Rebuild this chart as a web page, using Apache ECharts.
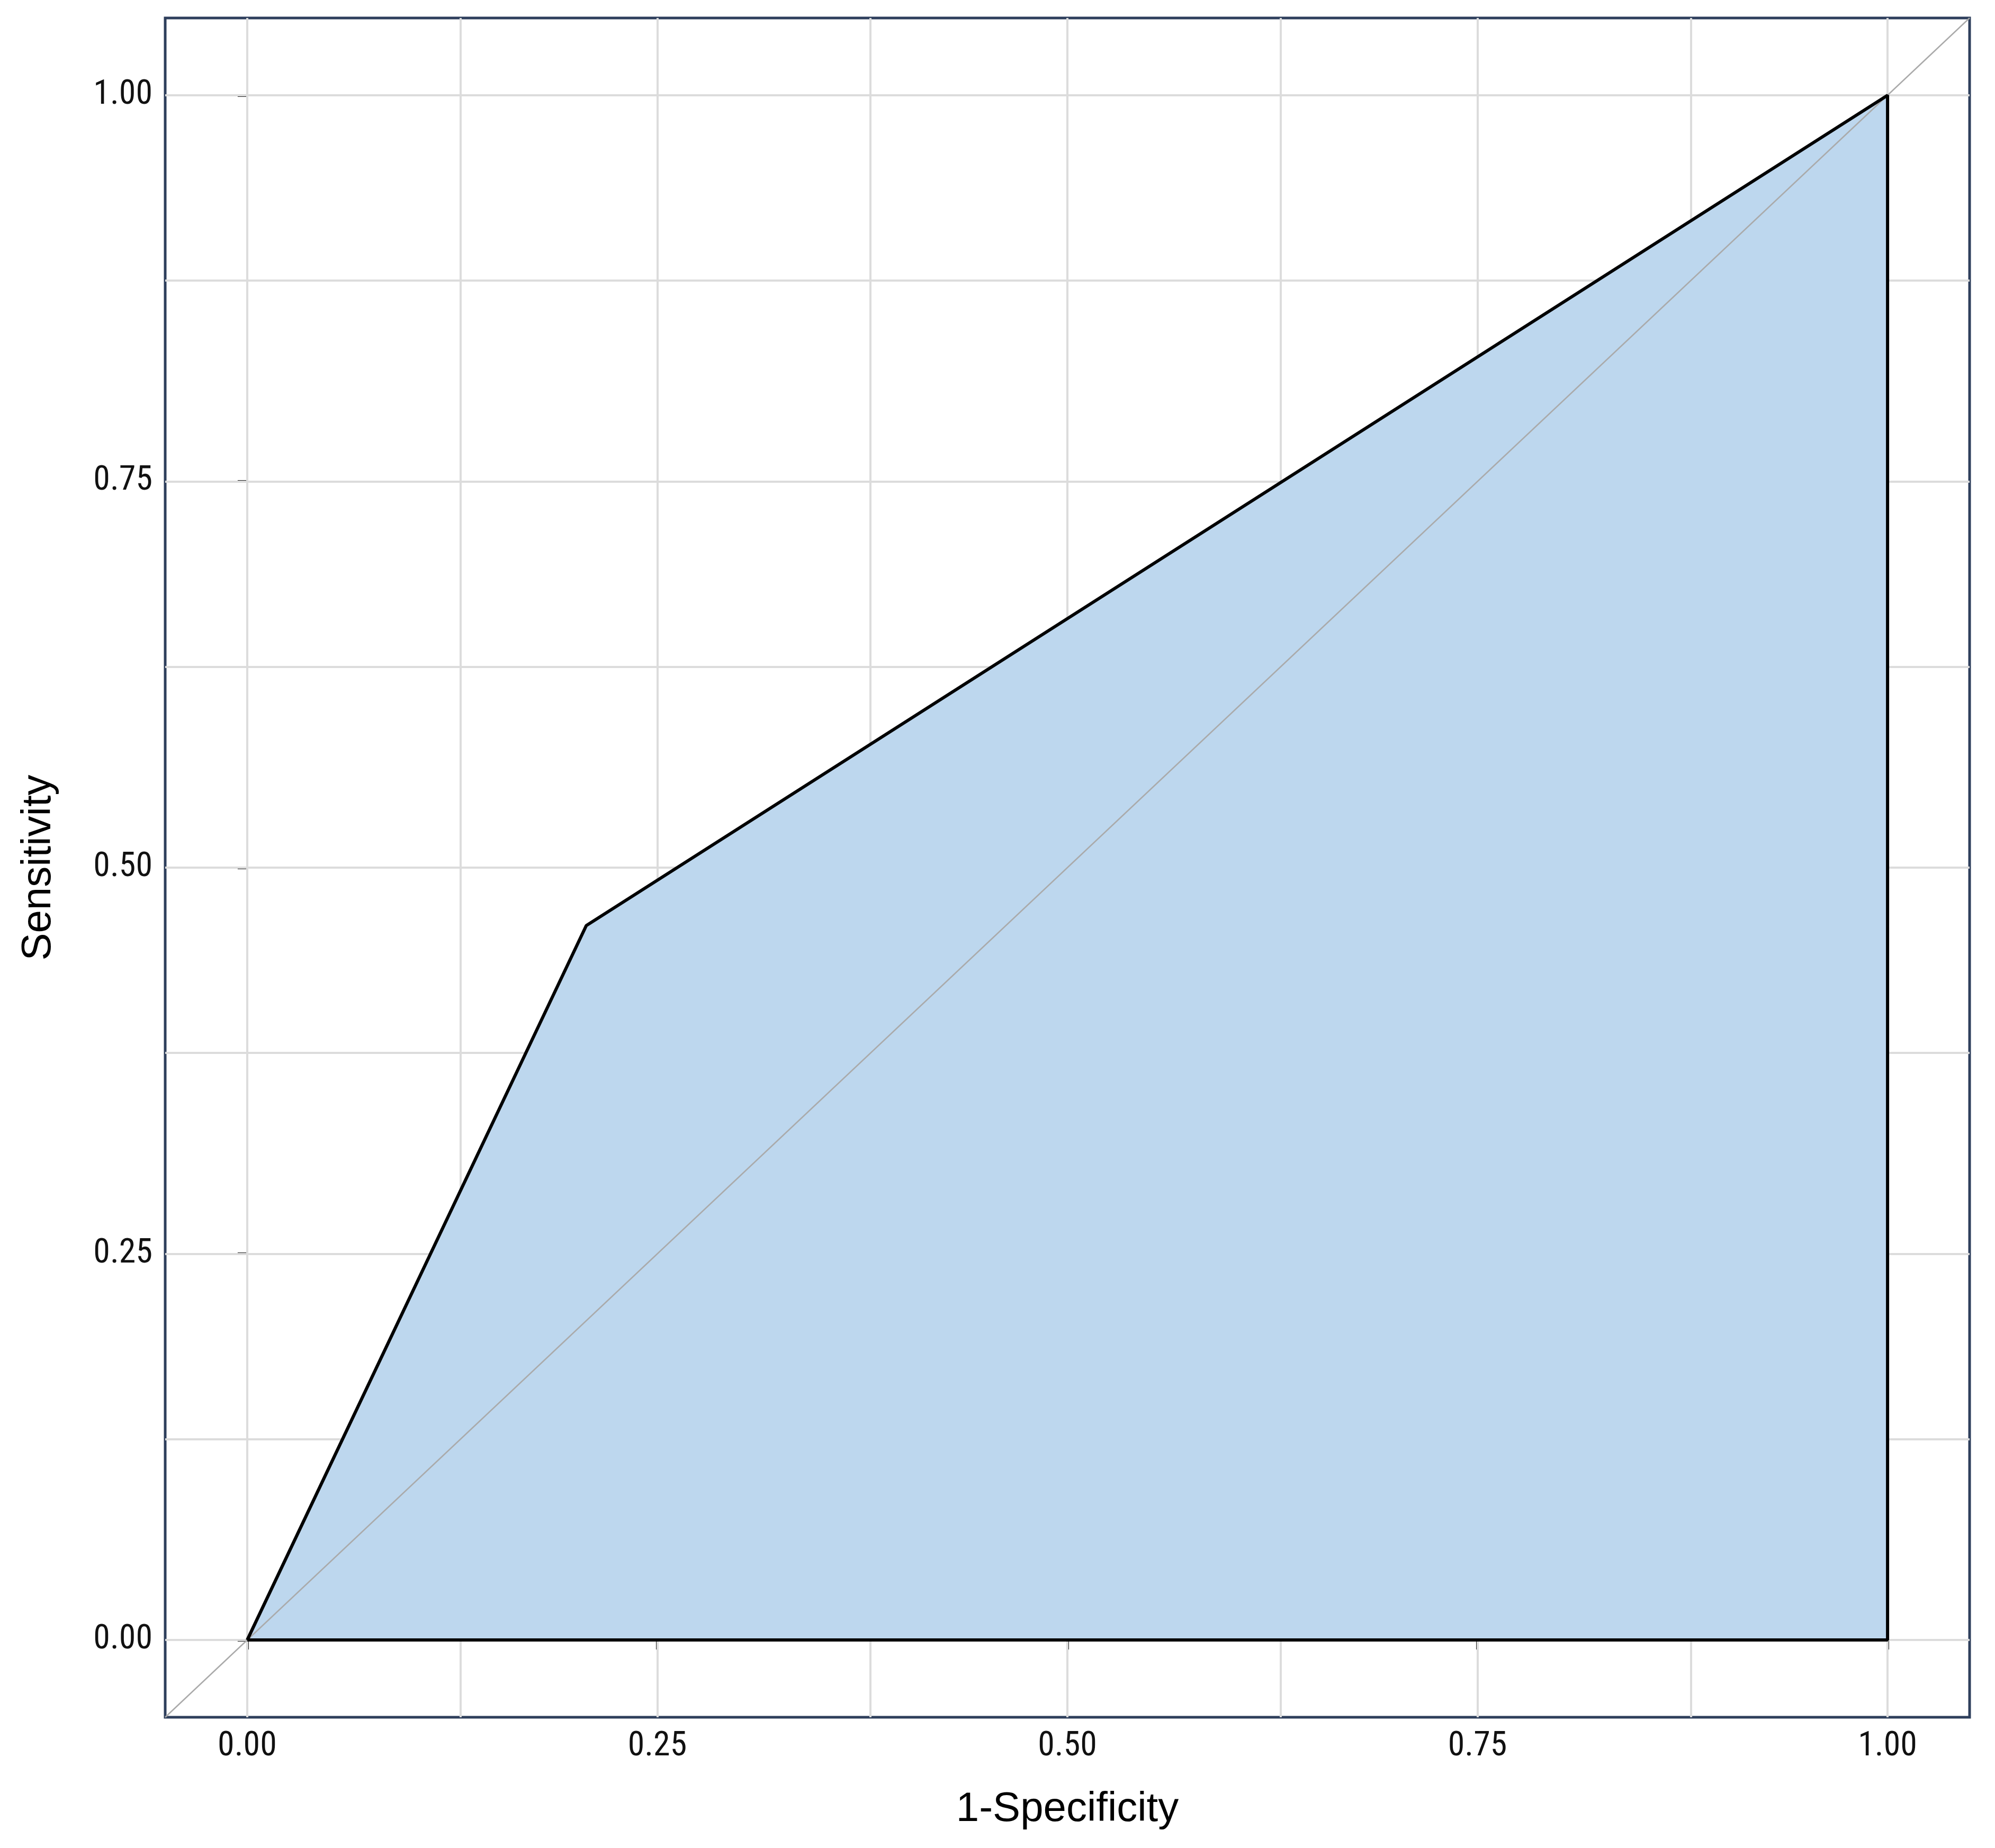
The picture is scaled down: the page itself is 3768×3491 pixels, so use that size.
<!DOCTYPE html>
<html><head><meta charset="utf-8">
<script src="https://cdn.jsdelivr.net/npm/echarts@6/dist/echarts.min.js"></script>
<style>html,body{margin:0;padding:0;background:#fff}#c{width:3768px;height:3491px}</style>
</head><body><div id="c"></div>
<script>
const rocX = [0, 0.2067, 1, 1, 0];
const rocY = [0, 0.4625, 1, 0, 0];
const tickValues = [0, 0.25, 0.5, 0.75, 1];
const gridValues = [0, 0.125, 0.25, 0.375, 0.5, 0.625, 0.75, 0.875, 1];
const aucText = 'AUC: 0.628';
const aucPos = [0.833, 0.195];

const chart = echarts.init(document.getElementById('c'));
const lblFont = '"Liberation Sans Narrow","Roboto Condensed","Liberation Sans",sans-serif';
const gridLines = gridValues.map(v => ({xAxis: v})).concat(gridValues.map(v => ({yAxis: v})));
const rocData = rocX.map((x, i) => [x, rocY[i]]);
function axis(name, gap, rot) {
  return {
    type: 'value', min: -0.05, max: 1.05, name: name, nameLocation: 'middle', nameGap: gap,
    nameRotate: rot,
    nameTextStyle: {fontSize: 78, color: '#000', fontFamily: 'Liberation Sans, Arial, sans-serif'},
    axisLine: {show: false}, splitLine: {show: false},
    axisTick: {show: true, customValues: tickValues, length: 18, lineStyle: {color: '#222', width: 5}},
    axisLabel: {customValues: tickValues, fontSize: 64, color: '#111', fontFamily: lblFont, margin: 24,
      formatter: v => v.toFixed(2)}
  };
}
chart.setOption({
  animation: false,
  grid: {left: 312, right: 48, top: 34, bottom: 247, show: true, borderColor: '#2e3f5c', borderWidth: 5, backgroundColor: '#fff'},
  xAxis: axis('1-Specificity', 135, 0),
  yAxis: axis('Sensitivity', 200, 90),
  series: [
    {type: 'line', data: [], silent: true, z: 1,
     markLine: {silent: true, symbol: 'none', label: {show: false}, z: 1, lineStyle: {color: '#dcdcdc', width: 4, type: 'solid'}, data: gridLines}},
    {type: 'line', data: rocData, symbol: 'none', z: 2,
     lineStyle: {width: 0, opacity: 0}, areaStyle: {color: '#bdd7ee', opacity: 1, origin: 0}},
    {type: 'line', data: [[-0.05, -0.05], [1.05, 1.05]], symbol: 'none', lineStyle: {color: '#aaaaaa', width: 2.5}, z: 3},
    {type: 'line', data: rocData, symbol: 'none', z: 10, lineStyle: {color: '#000', width: 6}},
    {type: 'scatter', data: [aucPos], symbolSize: 1, itemStyle: {opacity: 0}, z: 11,
     label: {show: true, position: 'inside', formatter: aucText, fontSize: 74, color: '#000',
       fontFamily: 'Liberation Sans, Arial, sans-serif'}}
  ]
});
</script></body></html>
